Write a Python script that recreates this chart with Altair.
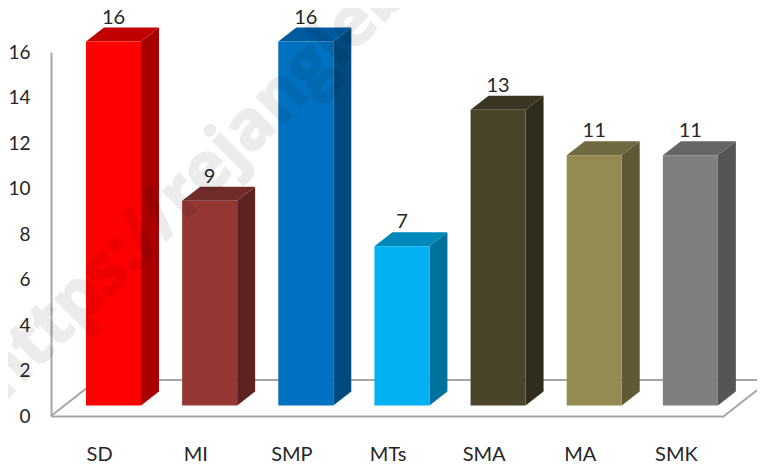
import json
import altair as alt
import pandas as pd

categories = ["SD", "MI", "SMP", "MTs", "SMA", "MA", "SMK"]
values = [16, 9, 16, 7, 13, 11, 11]
front_colors = ["#FF0000", "#953735", "#0070C0", "#00B0F0", "#4A452A", "#948A54", "#7F7F7F"]
top_colors = ["#C00000", "#6F2C2A", "#005A9E", "#0088BB", "#3A3522", "#716A40", "#666666"]
side_colors = ["#A80000", "#5E2220", "#004A80", "#00709C", "#302D1C", "#5F5935", "#555555"]
y_ticks = [0, 2, 4, 6, 8, 10, 12, 14, 16]
watermark = "https://rejanglebongkab.go.id"

FONT = "Lato"
TEXT = "#262626"
GREY = "#A6A6A6"
PX_X = 673 / 7      # pixels per category slot
PX_Y = 364 / 16     # pixels per value unit
INSET = 35 / PX_X
BAR_W = 55 / PX_X
BASE = 10.5 / PX_Y
DX = 18 / PX_X
DY = 14 / PX_Y
FLOOR_DX = 46 / PX_X
FLOOR_DY = 36 / PX_Y

xs = alt.Scale(domain=[0, 7], nice=False, zero=False)
ys = alt.Scale(domain=[0, 16], nice=False, zero=False)

label_expr = json.dumps(categories) + "[floor(datum.value)]"
x_axis = alt.Axis(
    values=[k + 0.5 for k in range(len(categories))], labelExpr=label_expr, title=None,
    grid=False, ticks=False, domainColor=GREY, domainWidth=2, labelFont=FONT,
    labelFontSize=20, labelColor=TEXT, labelPadding=28, labelAngle=0)
y_axis = alt.Axis(
    values=y_ticks, title=None, grid=False, ticks=False, domainColor=GREY, domainWidth=2,
    labelFont=FONT, labelFontSize=19, labelColor=TEXT, labelPadding=21)


def X(field):
    return alt.X(field, type="quantitative", scale=xs, axis=x_axis)


def Y(field):
    return alt.Y(field, type="quantitative", scale=ys, axis=y_axis)


front, side, top, labels = [], [], [], []
for k, (v, fc, tc, sc) in enumerate(zip(values, front_colors, top_colors, side_colors)):
    x0 = k + INSET
    x1 = x0 + BAR_W
    vt = v + BASE
    front.append(dict(x=x0, x2=x1, y=BASE, y2=vt, c=fc))
    side.append(dict(x=x1, y=BASE, y2=vt, c=sc))
    side.append(dict(x=x1 + DX, y=BASE + DY, y2=vt + DY, c=sc))
    top.append(dict(x=x0, y=vt, y2=vt, c=tc))
    top.append(dict(x=x0 + DX, y=vt, y2=vt + DY, c=tc))
    top.append(dict(x=x1, y=vt, y2=vt + DY, c=tc))
    top.append(dict(x=x1 + DX, y=vt + DY, y2=vt + DY, c=tc))
    labels.append(dict(x=x0 + BAR_W / 2, y=vt, t=str(v)))

floor = pd.DataFrame([
    dict(x=0, y=0, o=0),
    dict(x=FLOOR_DX, y=FLOOR_DY, o=1),
    dict(x=7 + FLOOR_DX, y=FLOOR_DY, o=2),
    dict(x=7, y=0, o=3),
])

floor_line = (
    alt.Chart(floor).mark_line(color=GREY, strokeWidth=2)
    .encode(x=X("x"), y=Y("y"), order="o:Q")
)
fronts = (
    alt.Chart(pd.DataFrame(front)).mark_rect()
    .encode(x=X("x"), x2="x2:Q", y=Y("y"), y2="y2:Q", color=alt.Color("c:N", scale=None))
)
sides = (
    alt.Chart(pd.DataFrame(side)).mark_area()
    .encode(x=X("x"), y=Y("y"), y2="y2:Q", color=alt.Color("c:N", scale=None))
)
tops = (
    alt.Chart(pd.DataFrame(top)).mark_area()
    .encode(x=X("x"), y=Y("y"), y2="y2:Q", color=alt.Color("c:N", scale=None))
)
value_text = (
    alt.Chart(pd.DataFrame(labels))
    .mark_text(font=FONT, fontSize=20, color=TEXT, dy=-24, baseline="middle")
    .encode(x=X("x"), y=Y("y"), text="t:N")
)
mark_text = (
    alt.Chart(pd.DataFrame({"x": [-0.635], "y": [1.23], "t": [watermark]}))
    .mark_text(font="Open Sans", fontSize=68, fontWeight="bold", color="#000000",
               stroke="#000000", strokeWidth=2, opacity=0.07, angle=315,
               align="left", baseline="middle")
    .encode(x=X("x"), y=Y("y"), text="t:N")
)

chart = (
    alt.layer(floor_line, sides, tops, fronts, value_text, mark_text)
    .properties(
        width=673, height=364,
        padding={"left": 43, "top": 44, "right": 33, "bottom": 49},
        autosize=alt.AutoSizeParams(type="none"),
        background="white",
    )
    .configure_view(stroke=None)
)
chart.save("out.html", embed_options={"renderer": "svg", "actions": False})
